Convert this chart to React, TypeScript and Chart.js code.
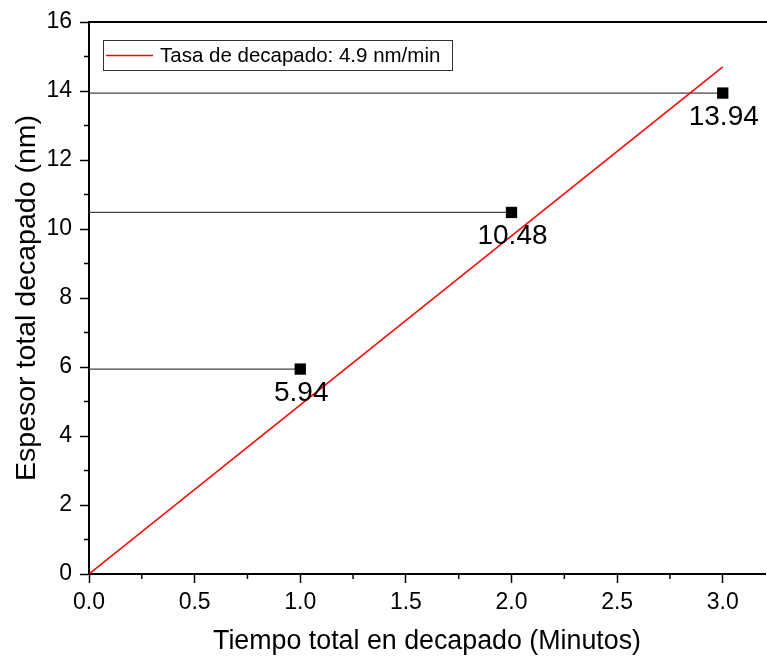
import React, { useEffect, useRef } from "react";
import { Chart, registerables } from "chart.js";

Chart.register(...registerables);

const times = [1, 2, 3];
const thickness = [5.94, 10.48, 13.94];
const pointLabels = ["5.94", "10.48", "13.94"];
const fitX = [0, 3];
const fitY = [0, 14.7];
const fitLabel = "Tasa de decapado: 4.9 nm/min";
const xTitle = "Tiempo total en decapado (Minutos)";
const yTitle = "Espesor total decapado (nm)";
const xTickValues = [0, 0.5, 1, 1.5, 2, 2.5, 3];
const yTickValues = [0, 2, 4, 6, 8, 10, 12, 14, 16];

const FONT = "'Liberation Sans', Arial, sans-serif";

const customPlugin = {
  id: "custom",
  afterDraw(chart: any) {
    const { ctx, chartArea, scales } = chart;
    const xs = scales.x;
    const ys = scales.y;
    ctx.save();
    // top border
    ctx.strokeStyle = "#000";
    ctx.lineWidth = 2;
    ctx.beginPath();
    ctx.moveTo(chartArea.left, chartArea.top);
    ctx.lineTo(chartArea.right + 2, chartArea.top);
    ctx.stroke();
    // minor ticks
    ctx.lineWidth = 1.5;
    ctx.beginPath();
    for (let v = 1; v < 16; v += 2) {
      const y = ys.getPixelForValue(v);
      ctx.moveTo(chartArea.left - 5, y);
      ctx.lineTo(chartArea.left, y);
    }
    for (let v = 0.25; v < 3.2; v += 0.5) {
      const x = xs.getPixelForValue(v);
      ctx.moveTo(x, chartArea.bottom);
      ctx.lineTo(x, chartArea.bottom + 5);
    }
    ctx.stroke();
    // point labels
    ctx.fillStyle = "#000";
    ctx.font = `28px ${FONT}`;
    ctx.textAlign = "center";
    ctx.textBaseline = "alphabetic";
    times.forEach((t, i) => {
      const px = xs.getPixelForValue(t);
      const py = ys.getPixelForValue(thickness[i]);
      ctx.fillText(pointLabels[i], px + 1, py + 32);
    });
    // legend
    const lx = 103, ly = 40, lw = 349, lh = 30;
    ctx.fillStyle = "#fff";
    ctx.fillRect(lx, ly, lw, lh);
    ctx.strokeStyle = "#333";
    ctx.lineWidth = 1;
    ctx.strokeRect(lx + 0.5, ly + 0.5, lw, lh);
    ctx.beginPath();
    ctx.strokeStyle = "#ff0000";
    ctx.lineWidth = 1.5;
    ctx.moveTo(lx + 3, ly + 15.5);
    ctx.lineTo(lx + 50, ly + 15.5);
    ctx.stroke();
    ctx.fillStyle = "#000";
    ctx.font = `20.5px ${FONT}`;
    ctx.textAlign = "left";
    ctx.textBaseline = "middle";
    ctx.fillText(fitLabel, lx + 57, ly + 16);
    ctx.restore();
  },
};

export default function App() {
  const ref = useRef<HTMLCanvasElement>(null);
  useEffect(() => {
    if (!ref.current) return;
    const hlines = times.map((t, i) => ({
      type: "line",
      data: [
        { x: 0, y: thickness[i] },
        { x: t, y: thickness[i] },
      ],
      borderColor: "#444",
      borderWidth: 1.2,
      pointRadius: 0,
      showLine: true,
      order: 3,
    }));
    const chart = new Chart(ref.current, {
      type: "scatter",
      data: {
        datasets: [
          {
            label: fitLabel,
            data: fitX.map((x, i) => ({ x, y: fitY[i] })),
            showLine: true,
            borderColor: "#ff0000",
            borderWidth: 1.5,
            pointRadius: 0,
            order: 1,
          } as any,
          ...(hlines as any),
          {
            label: "data",
            data: times.map((x, i) => ({ x, y: thickness[i] })),
            pointStyle: "rect",
            pointRadius: 8,
            backgroundColor: "#000",
            borderColor: "#000",
            borderWidth: 0,
            order: 0,
          },
        ],
      },
      options: {
        animation: false,
        responsive: false,
        layout: { autoPadding: false, padding: { top: 22, right: 2, left: 0, bottom: 0 } },
        plugins: {
          legend: { display: false },
          tooltip: { enabled: false },
        },
        scales: {
          x: {
            type: "linear",
            min: 0,
            max: 3.2,
            afterBuildTicks: (s: any) => {
              s.ticks = xTickValues.map((v) => ({ value: v }));
            },
            afterFit: (s: any) => {
              s.height = 84;
              s.paddingRight = 0;
              s.paddingLeft = 0;
            },
            ticks: {
              color: "#000",
              font: { family: FONT, size: 23 },
              padding: 6,
              callback: (v: any) => Number(v).toFixed(1),
            },
            grid: {
              drawOnChartArea: false,
              tickLength: 9,
              tickWidth: 1.5,
              color: "#000",
            },
            border: { color: "#000", width: 2 },
            title: {
              display: true,
              text: xTitle,
              color: "#000",
              font: { family: FONT, size: 26.8 },
              padding: { top: 12, bottom: 0 },
            },
          },
          y: {
            type: "linear",
            min: 0,
            max: 16,
            afterBuildTicks: (s: any) => {
              s.ticks = yTickValues.map((v) => ({ value: v }));
            },
            afterFit: (s: any) => {
              s.width = 89;
            },
            ticks: {
              color: "#000",
              font: { family: FONT, size: 23 },
              padding: 8,
            },
            grid: {
              drawOnChartArea: false,
              tickLength: 9,
              tickWidth: 1.5,
              color: "#000",
            },
            border: { color: "#000", width: 2 },
            title: {
              display: true,
              text: yTitle,
              color: "#000",
              font: { family: FONT, size: 28.5 },
              padding: { top: 10, bottom: 4 },
            },
          },
        },
      } as any,
      plugins: [customPlugin],
    });
    return () => chart.destroy();
  }, []);
  return (
    <div style={{ position: "fixed", left: 0, top: 0, width: 767, height: 658, background: "#fff" }}>
      <canvas ref={ref} width={767} height={658} style={{ display: "block" }} />
    </div>
  );
}
